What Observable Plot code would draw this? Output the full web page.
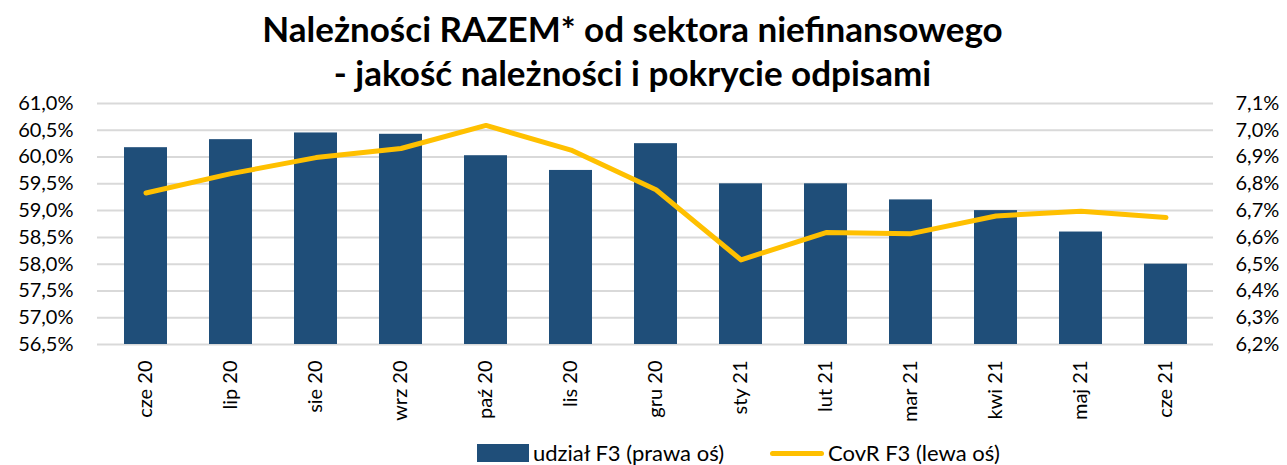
<!DOCTYPE html>
<html><head><meta charset="utf-8">
<script src="https://cdn.jsdelivr.net/npm/d3@7"></script>
<script src="https://cdn.jsdelivr.net/npm/@observablehq/plot@0.6"></script>
<style>
body{margin:0;background:#fff;font-family:Lato,"Open Sans",sans-serif;color:#000;}
#wrap{width:1287px;height:465px;overflow:hidden;}
#title{position:relative;z-index:1;height:85px;text-align:center;font-weight:bold;font-size:35px;line-height:44px;padding-top:6px;box-sizing:border-box;padding-right:22px;white-space:nowrap;}
#legend{height:35px;position:relative;font-size:22px;line-height:22px;}
.li{position:absolute;top:12px;height:22px;display:flex;align-items:center;}
.sw{display:inline-block;margin-right:4px;}
</style>
</head><body>
<div id="wrap">
<div id="title">Należności RAZEM* od sektora niefinansowego<br>- jakość należności i pokrycie odpisami</div>
<div id="chart"></div>
<div id="legend"></div>
</div>
<script>
const months = ["cze 20","lip 20","sie 20","wrz 20","paź 20","lis 20","gru 20","sty 21","lut 21","mar 21","kwi 21","maj 21","cze 21"];
// udział F3 (prawa oś), %
const udzialF3 = [6.935,6.965,6.99,6.985,6.905,6.85,6.95,6.80,6.80,6.74,6.70,6.62,6.50];
// CovR F3 (lewa oś), %
const covrF3 = [59.33,59.69,59.99,60.16,60.59,60.13,59.39,58.08,58.59,58.57,58.90,58.99,58.87];
const leftTicks = [56.5,57.0,57.5,58.0,58.5,59.0,59.5,60.0,60.5,61.0];
const rightTicks = [6.2,6.3,6.4,6.5,6.6,6.7,6.8,6.9,7.0,7.1];
const seriesNames = ["udział F3 (prawa oś)","CovR F3 (lewa oś)"];

const barColor = "#1f4e79", lineColor = "#ffc000";
// right axis mapped onto left scale
const toLeft = v => 56.5 + (v - 6.2) * 5;
const fromLeft = v => 6.2 + (v - 56.5) / 5;
const fmt = v => v.toFixed(1).replace(".", ",") + "%";

const data = months.map((m, i) => ({m, u: udzialF3[i], c: covrF3[i]}));

const chart = Plot.plot({
  width: 1287, height: 345,
  marginTop: 18, marginBottom: 86, marginLeft: 97, marginRight: 74,
  style: {fontFamily: "Lato, 'Open Sans', sans-serif", fontSize: "20px", color: "#000", background: "transparent"},
  x: {type: "band", domain: months, paddingInner: 0.5, paddingOuter: 0.25, label: null},
  y: {domain: [56.5, 61], label: null},
  marks: [
    Plot.ruleY(leftTicks, {stroke: "#d9d9d9", strokeWidth: 2}),
    Plot.barY(data, {x: "m", y1: d => 56.5, y2: d => toLeft(d.u), fill: barColor}),
    Plot.lineY(data, {x: "m", y: "c", stroke: lineColor, strokeWidth: 5, strokeLinecap: "round", strokeLinejoin: "round"}),
    Plot.axisY(leftTicks, {anchor: "left", tickSize: 0, tickPadding: 24, tickFormat: fmt, fontSize: 20, label: null}),
    Plot.axisY(rightTicks.map(toLeft), {anchor: "right", tickSize: 0, tickPadding: 22, tickFormat: v => fmt(fromLeft(v)), fontSize: 20, label: null}),
    Plot.axisX({tickRotate: -90, tickSize: 0, tickPadding: 16, fontSize: 20, label: null})
  ]
});
document.getElementById("chart").appendChild(chart);

const lg = document.getElementById("legend");
lg.innerHTML =
  `<div class="li" style="left:477px"><span class="sw" style="width:52px;height:18px;background:${barColor}"></span>${seriesNames[0]}</div>` +
  `<div class="li" style="left:770px"><span class="sw" style="width:54px;height:5px;border-radius:3px;background:${lineColor}"></span>${seriesNames[1]}</div>`;
</script>
</body></html>
